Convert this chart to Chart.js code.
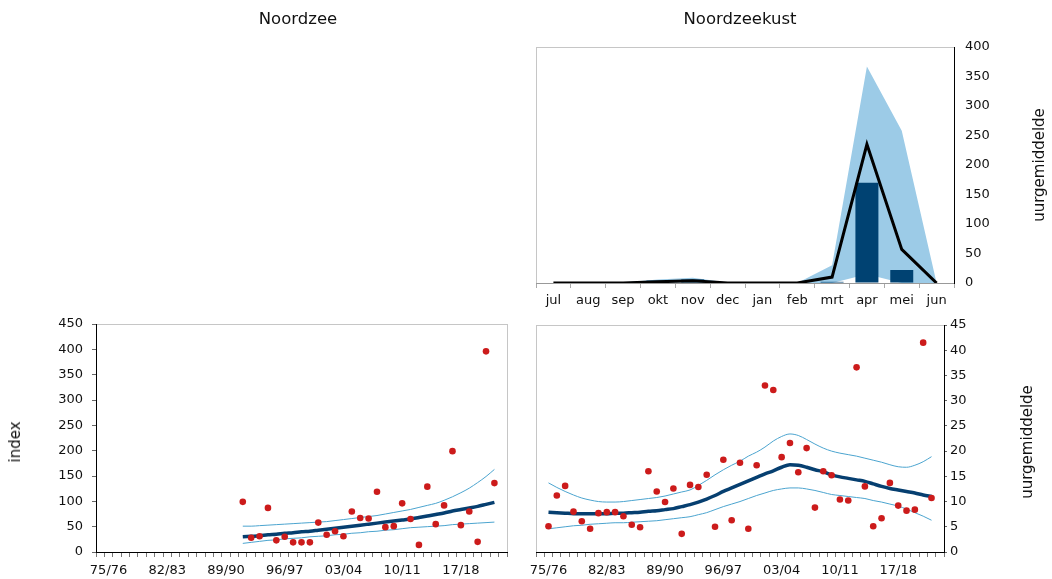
<!DOCTYPE html>
<html>
<head>
<meta charset="utf-8">
<script src="https://cdn.jsdelivr.net/npm/chart.js@4/dist/chart.umd.min.js"></script>
<style>
  body { margin: 0; background: #fff; }
  #wrap { position: relative; width: 1052px; height: 579px; overflow: hidden; font-family: 'DejaVu Sans', sans-serif; color: #111; }
  canvas { position: absolute; left: 0; top: 0; }
  .lbl { position: absolute; font-size: 15px; white-space: nowrap; transform: translate(-50%, -50%); }
  .title { font-size: 16.5px; }
  .rot { transform: translate(-50%, -50%) rotate(-90deg); }
</style>
</head>
<body>
<div id="wrap">
  <canvas id="monthChart" width="1052" height="579"></canvas>
  <canvas id="indexChart" width="1052" height="579"></canvas>
  <canvas id="coastChart" width="1052" height="579"></canvas>
  <div class="lbl title" style="left:298px; top:18px;">Noordzee</div>
  <div class="lbl title" style="left:740px; top:18px;">Noordzeekust</div>
  <div class="lbl rot" style="left:1039px; top:165px;">uurgemiddelde</div>
  <div class="lbl rot" style="left:1027px; top:442px;">uurgemiddelde</div>
  <div class="lbl rot" style="left:15px; top:442px;">index</div>
</div>
<script>
// monthly pattern, Noordzeekust
var months = ['jul', 'aug', 'sep', 'okt', 'nov', 'dec', 'jan', 'feb', 'mrt', 'apr', 'mei', 'jun'];
var monthBars = [0, 0, 0, 4, 6, 0, 0, 0, 2, 170, 22, 0];
var monthLine = [0, 0, 0, 2, 4, 0, 0, 0, 10, 235, 57, 0];
var monthHigh = [0, 0, 1, 6, 9, 1, 1, 0, 30, 367, 258, 0];
var monthLow  = [0, 0, 0, 1, 1, 0, 0, 0, 0, 15, 0, 0];

// seasons on the trend axes
var seasons = ['74/75', '75/76', '76/77', '77/78', '78/79', '79/80', '80/81', '81/82', '82/83', '83/84',
  '84/85', '85/86', '86/87', '87/88', '88/89', '89/90', '90/91', '91/92', '92/93', '93/94',
  '94/95', '95/96', '96/97', '97/98', '98/99', '99/00', '00/01', '01/02', '02/03', '03/04',
  '04/05', '05/06', '06/07', '07/08', '08/09', '09/10', '10/11', '11/12', '12/13', '13/14',
  '14/15', '15/16', '16/17', '17/18', '18/19', '19/20', '20/21', '21/22', '22/23'];
var xTickLabels = ['75/76', '82/83', '89/90', '96/97', '03/04', '10/11', '17/18'];

// Noordzee index (from 91/92)
var indexStart = '91/92';
var indexValues = [99, 28, 31, 87, 23, 30, 19, 19, 19, 58, 34, 41, 31, 80, 67, 66, 119, 49, 51, 96,
  65, 14, 129, 55, 92, 199, 53, 80, 20, 396, 136];
var indexTrend = [30, 31, 32, 34, 35, 37, 38, 40, 41, 43, 45, 47, 49, 51, 53, 55, 57, 59, 61, 63,
  65, 68, 71, 74, 77, 81, 84, 87, 90, 94, 98];
var indexUpper = [51, 51, 52, 53, 54, 55, 56, 57, 58, 59, 60, 62, 64, 66, 68, 70, 72, 75, 78, 81,
  84, 88, 92, 96, 102, 109, 117, 126, 137, 149, 163];
var indexLower = [17, 19, 21, 23, 24, 26, 27, 28, 30, 31, 32, 34, 35, 37, 38, 40, 41, 43, 44, 46,
  48, 49, 50, 51, 52, 54, 55, 56, 57, 58, 59];

// Noordzeekust uurgemiddelde (from 75/76)
var coastStart = '75/76';
var coastValues = [5.1, 11.2, 13.1, 8.0, 6.1, 4.6, 7.7, 7.9, 7.9, 7.1, 5.4, 4.9, 16.0, 12.0, 9.9, 12.6,
  3.6, 13.3, 12.9, 15.3, 5.0, 18.3, 6.3, 17.7, 4.6, 17.2, 33.0, 32.1, 18.8, 21.6, 15.8, 20.6, 8.8,
  16.0, 15.2, 10.4, 10.2, 36.6, 13.0, 5.1, 6.7, 13.7, 9.2, 8.2, 8.4, 41.5, 10.7];
var coastTrend = [7.9, 7.8, 7.7, 7.6, 7.6, 7.6, 7.6, 7.6, 7.7, 7.7, 7.8, 7.9, 8.1, 8.2, 8.4, 8.6,
  9.0, 9.4, 9.9, 10.5, 11.2, 12.0, 12.7, 13.4, 14.1, 14.8, 15.5, 16.1, 16.8, 17.3, 17.2, 16.8, 16.3,
  15.9, 15.3, 14.9, 14.6, 14.3, 14.0, 13.5, 13.0, 12.6, 12.3, 12.0, 11.7, 11.3, 11.0];
var coastUpper = [13.7, 12.8, 12.0, 11.3, 10.7, 10.3, 10.0, 9.9, 9.9, 10.0, 10.2, 10.4, 10.6, 10.8,
  11.1, 11.5, 11.9, 12.3, 13.2, 14.2, 15.3, 16.3, 17.2, 18.0, 19.0, 19.8, 20.8, 22.0, 22.9, 23.4,
  23.1, 22.3, 21.4, 20.6, 20.0, 19.6, 19.3, 19.0, 18.6, 18.2, 17.8, 17.3, 16.9, 16.8, 17.2, 17.9, 18.9];
var coastLower = [4.6, 4.8, 5.0, 5.2, 5.3, 5.5, 5.6, 5.7, 5.8, 5.8, 5.9, 6.0, 6.1, 6.2, 6.4, 6.6,
  6.8, 7.0, 7.4, 7.8, 8.4, 9.0, 9.5, 10.0, 10.6, 11.2, 11.7, 12.2, 12.5, 12.7, 12.7, 12.5, 12.2,
  11.8, 11.4, 11.2, 11.0, 10.8, 10.6, 10.2, 9.9, 9.5, 9.1, 8.5, 7.8, 7.1, 6.3];

var red = '#cc1b1b';
var navy = '#063f70';
var thin = '#4ba4cf';
var barBlue = '#004272';
var bandBlue = '#9ccbe7';

Chart.defaults.font.family = "'DejaVu Sans', sans-serif";
Chart.defaults.font.size = 13;
Chart.defaults.color = '#111';

// put a series on the season axis
function onSeasons(start, vals) {
  var out = seasons.map(function() { return null; });
  var s = seasons.indexOf(start);
  vals.forEach(function(v, i) { out[s + i] = v; });
  return out;
}

// light grey box around the plot area
var frame = {
  id: 'frame',
  beforeDraw: function(chart) {
    var a = chart.chartArea, c = chart.ctx;
    c.save();
    c.strokeStyle = '#c6c6c6';
    c.lineWidth = 1;
    c.strokeRect(Math.round(a.left) + 0.5, Math.round(a.top) + 0.5,
      Math.round(a.right - a.left), Math.round(a.bottom - a.top));
    c.restore();
  }
};

var noPlugins = { legend: { display: false }, tooltip: { enabled: false } };

function seasonAxis() {
  return {
    type: 'category',
    offset: true,
    grid: { offset: true, drawOnChartArea: false, drawTicks: true, tickLength: 5, color: '#777' },
    border: { color: '#000', width: 1 },
    ticks: {
      autoSkip: false, maxRotation: 0, minRotation: 0, padding: 6,
      callback: function(v) {
        var l = this.getLabelForValue(v);
        return xTickLabels.indexOf(l) >= 0 ? l : '';
      }
    },
    afterFit: function(s) { s.height = 25; }
  };
}

function valueAxis(pos, max, step, tick, pad) {
  return {
    position: pos, min: 0, max: max,
    ticks: { stepSize: step, padding: pad },
    grid: { drawOnChartArea: false, drawTicks: tick > 0, tickLength: tick, color: '#666' },
    border: { color: '#000', width: 1 },
    afterFit: function(s) { s.width = 40; }
  };
}

function trendSets(dots, trend, upper, lower) {
  return [
    { data: dots, showLine: false, pointRadius: 3.3, pointBackgroundColor: red, pointBorderWidth: 0, order: 0 },
    { data: trend, borderColor: navy, borderWidth: 3.5, pointRadius: 0, cubicInterpolationMode: 'monotone', order: 1 },
    { data: upper, borderColor: thin, borderWidth: 1, pointRadius: 0, cubicInterpolationMode: 'monotone', order: 2 },
    { data: lower, borderColor: thin, borderWidth: 1, pointRadius: 0, cubicInterpolationMode: 'monotone', order: 2 }
  ];
}

// top right: monthly pattern
new Chart(document.getElementById('monthChart'), {
  type: 'bar',
  data: {
    labels: months,
    datasets: [
      { type: 'line', data: monthLine, borderColor: '#000', borderWidth: 3, pointRadius: 0, tension: 0, order: 0 },
      { type: 'bar', data: monthBars, backgroundColor: barBlue, barPercentage: 0.66, categoryPercentage: 1, order: 1 },
      { type: 'line', data: monthHigh, borderWidth: 0, pointRadius: 0, backgroundColor: bandBlue, fill: 3, tension: 0, order: 2 },
      { type: 'line', data: monthLow, borderWidth: 0, pointRadius: 0, fill: false, tension: 0, order: 3 }
    ]
  },
  options: {
    responsive: false, animation: false,
    layout: { padding: { left: 536, right: 58, top: 47, bottom: 271 } },
    plugins: noPlugins,
    scales: {
      x: {
        offset: true,
        grid: { offset: true, drawOnChartArea: false, tickLength: 5, color: '#aaa' },
        border: { color: '#999', width: 1 },
        ticks: { maxRotation: 0, padding: 5 },
        afterFit: function(s) { s.height = 25; }
      },
      y: valueAxis('right', 400, 50, 0, 11)
    }
  },
  plugins: [frame]
});

// bottom left: Noordzee index
new Chart(document.getElementById('indexChart'), {
  type: 'line',
  data: {
    labels: seasons,
    datasets: trendSets(onSeasons(indexStart, indexValues), onSeasons(indexStart, indexTrend),
      onSeasons(indexStart, indexUpper), onSeasons(indexStart, indexLower))
  },
  options: {
    responsive: false, animation: false,
    layout: { padding: { left: 56, right: 545, top: 324, bottom: 2 } },
    plugins: noPlugins,
    scales: { x: seasonAxis(), y: valueAxis('left', 450, 50, 4, 9) }
  },
  plugins: [frame]
});

// bottom right: Noordzeekust uurgemiddelde
new Chart(document.getElementById('coastChart'), {
  type: 'line',
  data: {
    labels: seasons,
    datasets: trendSets(onSeasons(coastStart, coastValues), onSeasons(coastStart, coastTrend),
      onSeasons(coastStart, coastUpper), onSeasons(coastStart, coastLower))
  },
  options: {
    responsive: false, animation: false,
    layout: { padding: { left: 536, right: 68, top: 325, bottom: 2 } },
    plugins: noPlugins,
    scales: { x: seasonAxis(), y: valueAxis('right', 45, 5, 3, 3) }
  },
  plugins: [frame]
});
</script>
</body>
</html>
